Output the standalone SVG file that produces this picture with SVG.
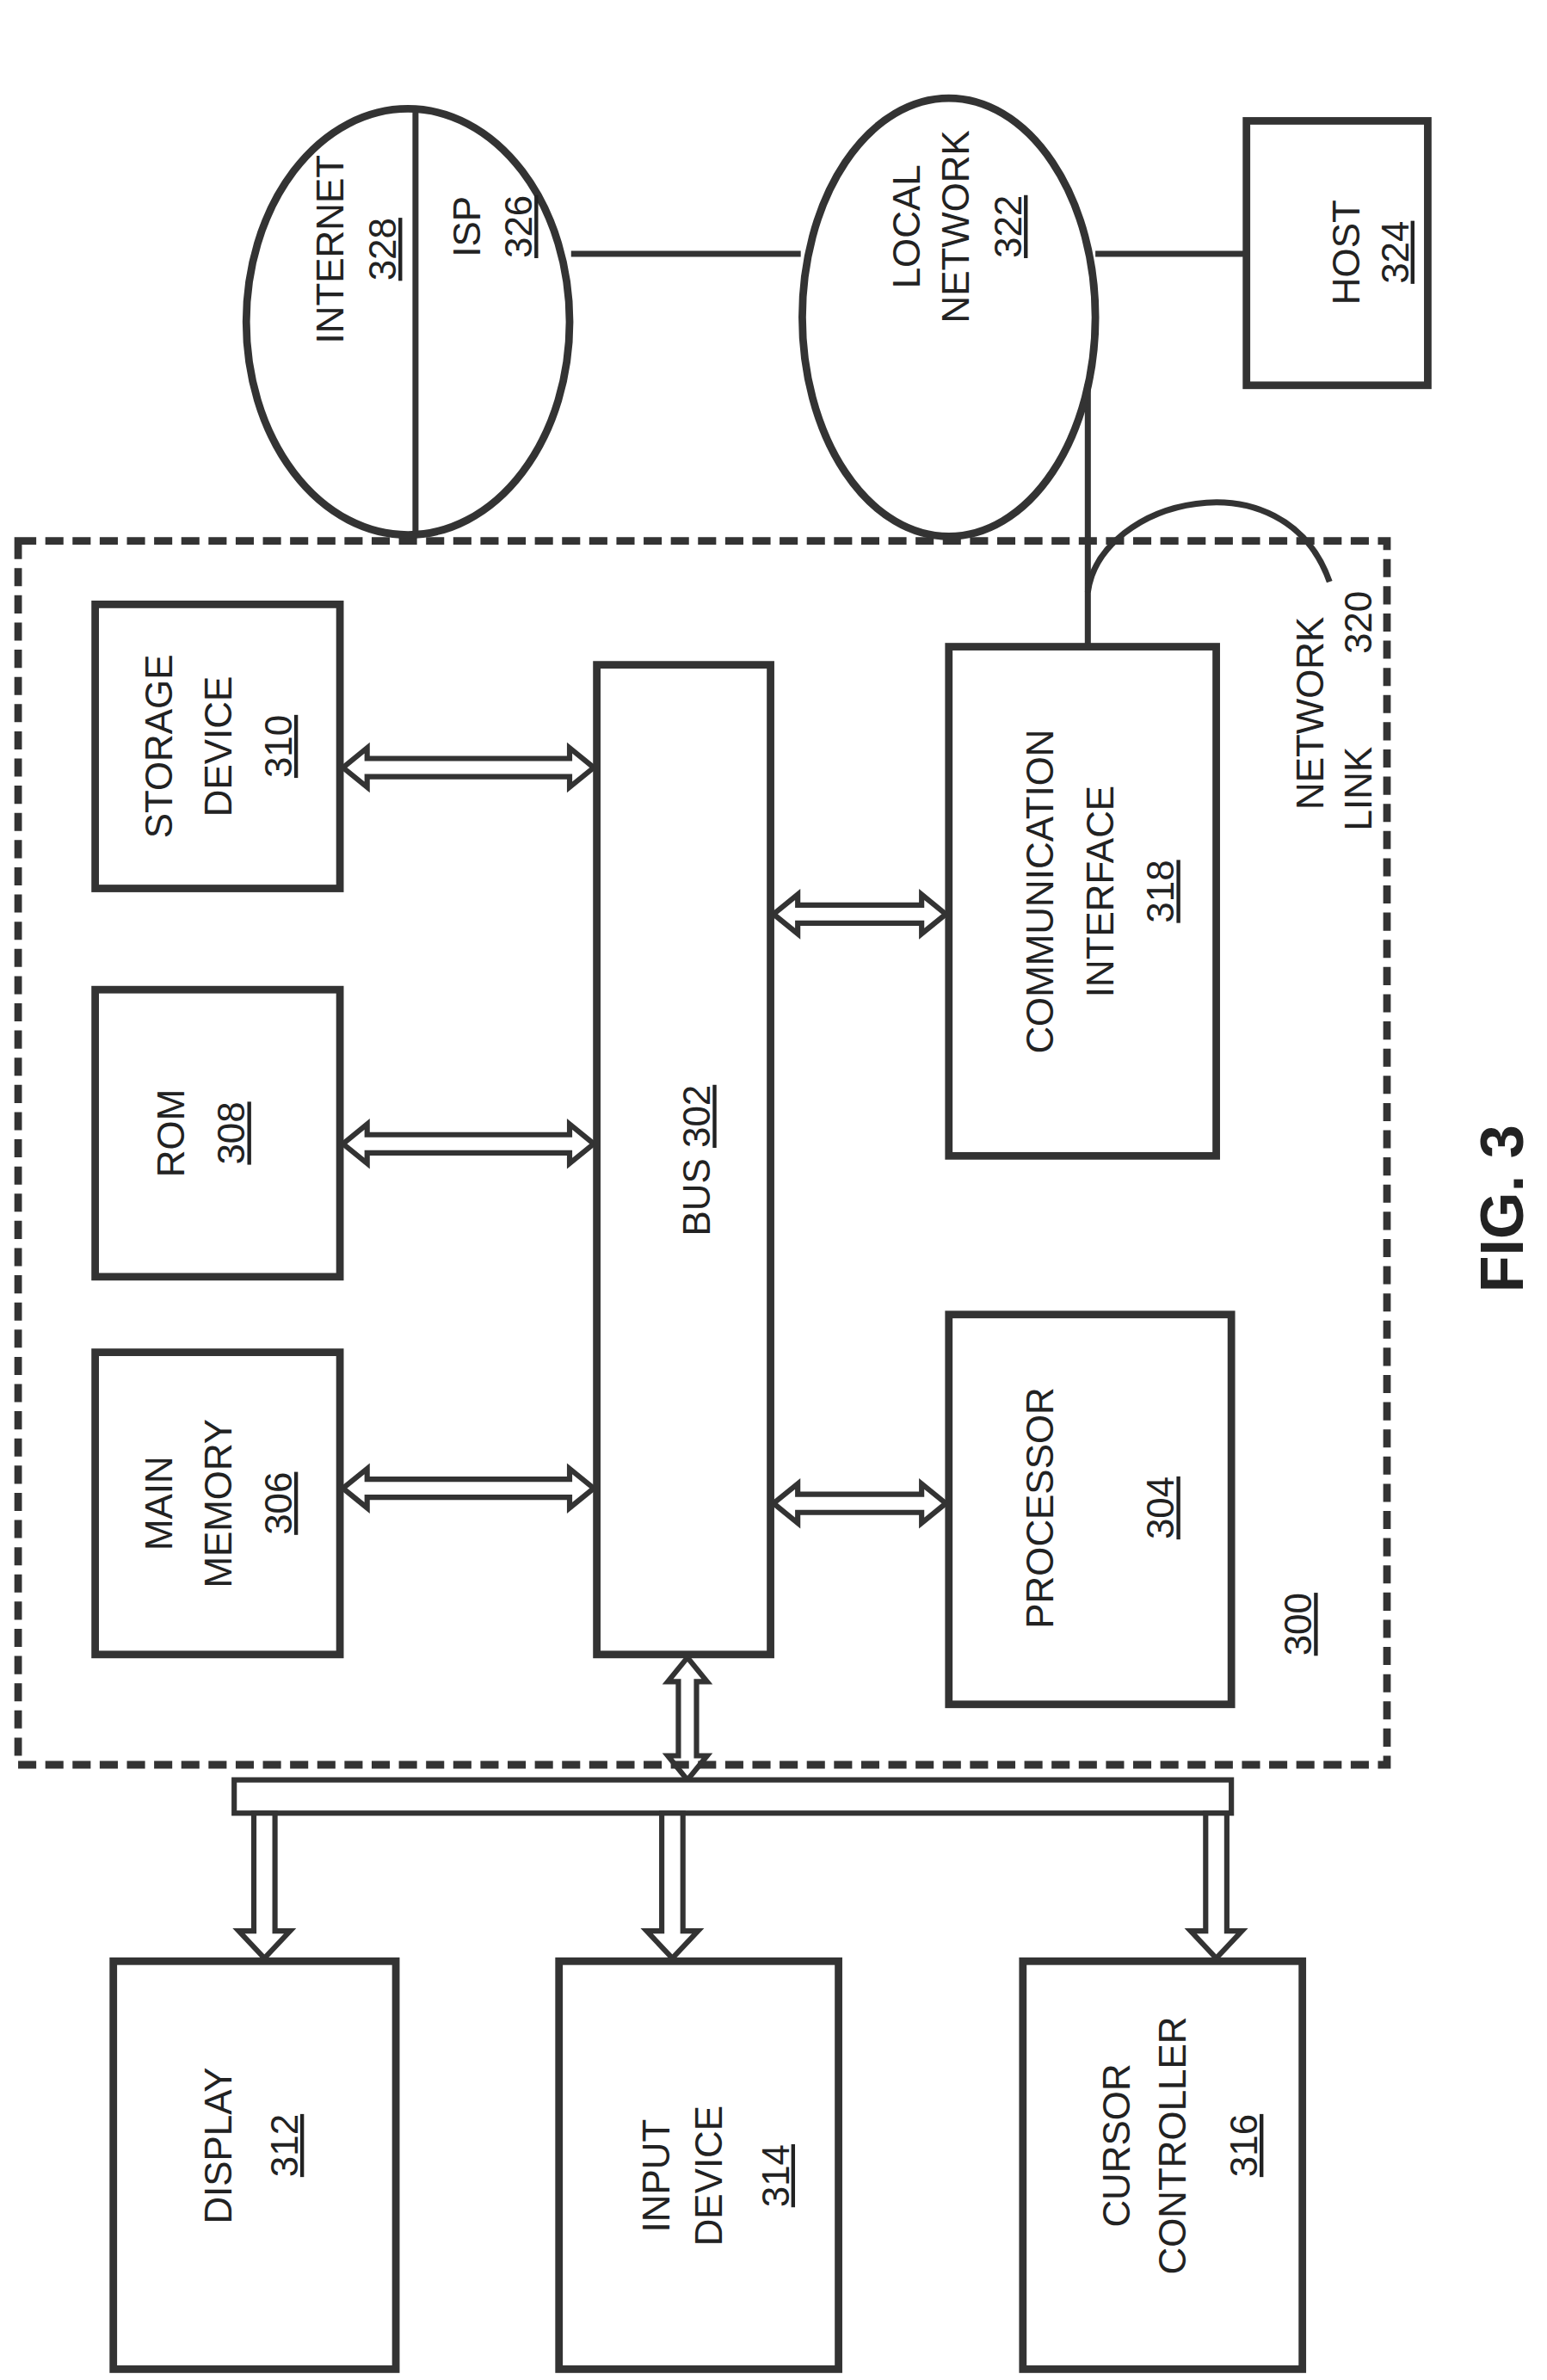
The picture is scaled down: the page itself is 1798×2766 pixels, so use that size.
<svg xmlns="http://www.w3.org/2000/svg" width="1798" height="2766" viewBox="0 0 1798 2766">
<style>
.b{fill:none;stroke:#333;stroke-width:5}
.a{fill:#fff;stroke:#333;stroke-width:3.5;stroke-linejoin:miter}
.l{fill:none;stroke:#333;stroke-width:4}
text{font-family:"Liberation Sans",Arial,sans-serif;font-size:25px;fill:#222;text-anchor:middle}
.u{text-decoration:underline}
</style>
<rect width="1798" height="2766" fill="#fff"/>
<g transform="scale(1.756)">
<g id="connectors">
<line class="l" x1="378" y1="168" x2="530" y2="168"/>
<line class="l" x1="725" y1="168" x2="825" y2="168"/>
<line class="l" x1="720" y1="254" x2="720" y2="428"/>
<path class="l" d="M720,392 C728,330 850,300 880,385" stroke-width="2.5"/>
<polygon class="a" points="227,508 243,495 243,502 377,502 377,495 393,508 377,521 377,514 243,514 243,521"/>
<polygon class="a" points="227,757 243,744 243,751 377,751 377,744 393,757 377,770 377,763 243,763 243,770"/>
<polygon class="a" points="227,985 243,972 243,979 377,979 377,972 393,985 377,998 377,991 243,991 243,998"/>
<polygon class="a" points="512,605 528,592 528,599 610,599 610,592 626,605 610,618 610,611 528,611 528,618"/>
<polygon class="a" points="512,995 528,982 528,989 610,989 610,982 626,995 610,1008 610,1001 528,1001 528,1008"/>
<polygon class="a" points="455,1097 442,1113 449,1113 449,1162 442,1162 455,1178 468,1162 461,1162 461,1113 468,1113"/>
<rect class="a" x="155" y="1178" width="660" height="22"/>
<polygon class="a" points="168,1200 168,1278 158,1278 175,1296 192,1278 182,1278 182,1200"/>
<polygon class="a" points="438,1200 438,1278 428,1278 445,1296 462,1278 452,1278 452,1200"/>
<polygon class="a" points="798,1200 798,1278 788,1278 805,1296 822,1278 812,1278 812,1200"/>
</g>
<g id="n300"><rect x="12" y="358" width="906" height="810" fill="none" stroke="#333" stroke-width="5" stroke-dasharray="12,6"/>
<text class="u" transform="translate(868,1075) rotate(-90)">300</text></g>
<g id="n310"><rect class="b" x="63" y="400" width="162" height="188"/>
<text transform="translate(114,494) rotate(-90)">STORAGE</text><text transform="translate(153,494) rotate(-90)">DEVICE</text><text class="u" transform="translate(193,494) rotate(-90)">310</text></g>
<g id="n308"><rect class="b" x="63" y="655" width="162" height="190"/>
<text transform="translate(122,750) rotate(-90)">ROM</text><text class="u" transform="translate(162,750) rotate(-90)">308</text></g>
<g id="n306"><rect class="b" x="63" y="895" width="162" height="200"/>
<text transform="translate(114,995) rotate(-90)">MAIN</text><text transform="translate(153,995) rotate(-90)">MEMORY</text><text class="u" transform="translate(193,995) rotate(-90)">306</text></g>
<g id="n302"><rect class="b" x="395" y="440" width="115" height="655"/>
<text transform="translate(470,768) rotate(-90)"><tspan>BUS </tspan><tspan class="u">302</tspan></text></g>
<g id="n318"><rect class="b" x="628" y="428" width="177" height="337"/>
<text transform="translate(697,590) rotate(-90)">COMMUNICATION</text><text transform="translate(737,590) rotate(-90)">INTERFACE</text><text class="u" transform="translate(777,590) rotate(-90)">318</text></g>
<g id="n304"><rect class="b" x="628" y="870" width="187" height="258"/>
<text transform="translate(697,998) rotate(-90)">PROCESSOR</text><text class="u" transform="translate(777,998) rotate(-90)">304</text></g>
<g id="n320"><text transform="translate(876,472) rotate(-90)">NETWORK</text><text transform="translate(908,522) rotate(-90)">LINK</text><text transform="translate(908,412) rotate(-90)">320</text></g>
<g id="n326"><ellipse class="b" cx="270" cy="213" rx="107" ry="141"/><line class="l" x1="275" y1="73" x2="275" y2="353" stroke-width="2"/>
<text transform="translate(227,165) rotate(-90)">INTERNET</text><text class="u" transform="translate(262,165) rotate(-90)">328</text>
<text transform="translate(318,150) rotate(-90)">ISP</text><text class="u" transform="translate(352,150) rotate(-90)">326</text></g>
<g id="n322"><ellipse class="b" cx="628" cy="210" rx="97" ry="145"/>
<text transform="translate(609,150) rotate(-90)">LOCAL</text><text transform="translate(641,150) rotate(-90)">NETWORK</text><text class="u" transform="translate(676,150) rotate(-90)">322</text></g>
<g id="n324"><rect class="b" x="825" y="80" width="120" height="175"/>
<text transform="translate(900,167) rotate(-90)">HOST</text><text class="u" transform="translate(932,167) rotate(-90)">324</text></g>
<g id="n312"><rect class="b" x="75" y="1298" width="187" height="270"/>
<text transform="translate(153,1420) rotate(-90)">DISPLAY</text><text class="u" transform="translate(197,1420) rotate(-90)">312</text></g>
<g id="n314"><rect class="b" x="370" y="1298" width="185" height="270"/>
<text transform="translate(443,1440) rotate(-90)">INPUT</text><text transform="translate(478,1440) rotate(-90)">DEVICE</text><text class="u" transform="translate(522,1440) rotate(-90)">314</text></g>
<g id="n316"><rect class="b" x="677" y="1298" width="185" height="270"/>
<text transform="translate(748,1420) rotate(-90)">CURSOR</text><text transform="translate(785,1420) rotate(-90)">CONTROLLER</text><text class="u" transform="translate(832,1420) rotate(-90)">316</text></g>
<text transform="translate(1008,800) rotate(-90)" style="font-weight:bold;font-size:40px">FIG. 3</text>
</g>
</svg>
